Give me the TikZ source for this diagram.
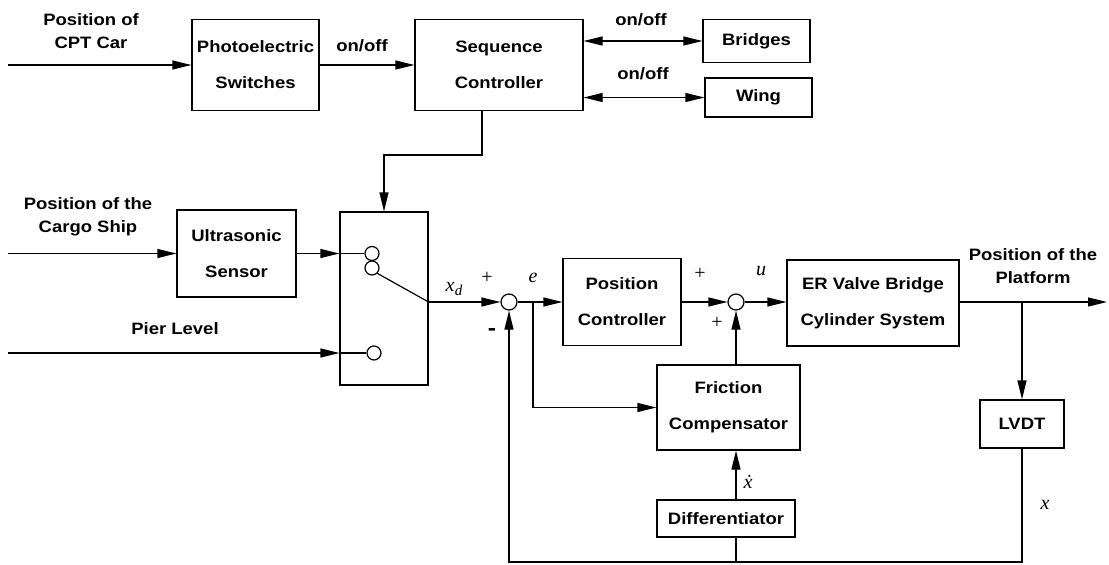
\documentclass[tikz,border=0pt]{standalone}
\usepackage{fontspec}
\setmainfont{Liberation Sans}[FakeStretch=1.12]
\newfontfamily\tmsfont{Liberation Serif}
\usetikzlibrary{arrows.meta}
\newcommand\boxfont{\bfseries\fontsize{16.5}{36}\selectfont}
\newcommand\lblfont{\bfseries\fontsize{16.5}{23.5}\selectfont}
\newcommand\mfont{\tmsfont\fontsize{20}{22}\selectfont}
\begin{document}
\begin{tikzpicture}[x=1pt,y=-1pt,
  line width=1.2pt,
  blk/.style={draw, line width=1.2pt, inner sep=0pt, align=center, font=\boxfont},
  lbl/.style={inner sep=0pt, align=center, font=\lblfont},
  mlbl/.style={inner sep=0pt, font=\mfont},
  sumc/.style={draw, circle, line width=1.2pt, minimum size=16pt, inner sep=0pt},
  swc/.style={draw, circle, line width=1.2pt, minimum size=14pt, inner sep=0pt},
  arr/.style={-{Triangle[length=19pt,width=9pt]}},
  darr/.style={{Triangle[length=19pt,width=9pt]}-{Triangle[length=19pt,width=9pt]}}]
\useasboundingbox (0,0) rectangle (1109,565);

% blocks
\node[blk, minimum width=127pt, minimum height=91pt] (pe) at (255.5,65) {Photoelectric\\Switches};
\node[blk, minimum width=168pt, minimum height=91pt] (sc) at (499,65) {Sequence\\Controller};
\node[blk, minimum width=107pt, minimum height=43pt] (br) at (756.5,41) {Bridges};
\node[blk, minimum width=107pt, minimum height=39pt] (wg) at (758.5,97.5) {Wing};
\node[blk, minimum width=119pt, minimum height=87pt] (us) at (236.5,253.5) {Ultrasonic\\Sensor};
\node[draw, line width=1.2pt, minimum width=88pt, minimum height=173pt, inner sep=0pt] (sw) at (384,298.5) {};
\node[blk, minimum width=118pt, minimum height=87pt] (pc) at (622,302) {Position\\Controller};
\node[blk, minimum width=172pt, minimum height=86pt] (er) at (873,303) {ER Valve Bridge\\Cylinder System};
\node[blk, minimum width=143pt, minimum height=85pt] (fc) at (728.5,407.5) {Friction\\Compensator};
\node[blk, minimum width=138pt, minimum height=37pt] (df) at (726,518.5) {Differentiator};
\node[blk, minimum width=84pt, minimum height=48pt] (lv) at (1022,424) {LVDT};

% switch contacts and summing junctions
\node[swc] (c1) at (372,253.5) {};
\node[swc] (c2) at (372,268) {};
\node[swc] (c3) at (374,353) {};
\node[sumc] (s1) at (509,302) {};
\node[sumc] (s2) at (736,302) {};

% coordinates
\coordinate (incpt) at (8,65);
\coordinate (inship) at (8,253.5);
\coordinate (inpier) at (8,353);
\coordinate (k1) at (482,155);
\coordinate (k2) at (384,155);
\coordinate (eb) at (533,302);
\coordinate (out) at (1107,302);
\coordinate (lb) at (1022,302);
\coordinate (bot) at (1022,562);

% connectors, top row
\draw[arr] (incpt) -- (pe.west);
\draw[arr] (pe.east) -- (sc.west);
\draw[darr] (sc.east |- br) -- (br.west);
\draw[darr] (sc.east |- wg) -- (wg.west);
\draw[arr] (sc.south -| k1) -- (k1) -- (k2) -- (sw.north);

% inputs to switch
\draw[arr] (inship) -- (us.west);
\draw[arr] (us.east) -- (c1 -| sw.west);
\draw (c1 -| sw.west) -- (c1.west);
\draw[arr] (inpier) -- (inpier -| sw.west);
\draw (inpier -| sw.west) -- (c3.west);
\draw (c2.south east) -- (sw.east |- s1);

% main loop
\draw[arr] (sw.east |- s1) -- (s1.west);
\draw[arr] (s1.east) -- (pc.west |- s1);
\draw[arr] (eb) -- (eb |- fc.west) -- (fc.west);
\draw[arr] (pc.east |- s2) -- (s2.west);
\draw[arr] (s2.east) -- (er.west |- s2);
\draw[arr] (fc.north -| s2) -- (s2.south);
\draw[arr] (df.north -| s2) -- (fc.south -| s2);
\draw[arr] (er.east |- out) -- (out);
\draw[arr] (lb) -- (lv.north);
\draw[arr] (lv.south) -- (bot) -- (bot -| s1) -- (s1.south);
\draw (df.south -| s2) -- (bot -| s2);

% labels
\node[lbl] (lcpt) at (91,31) {Position of\\CPT Car};
\node[lbl] (lship) at (88,217) {Position of the\\Cargo Ship};
\node[lbl] (lpier) at (175,329) {Pier Level};
\node[lbl] (lplat) at (1033,266) {Position of the\\Platform};
\node[lbl] (on1) at (362,46) {on/off};
\node[lbl] (on2) at (641,20) {on/off};
\node[lbl] (on3) at (643,74) {on/off};
\node[mlbl] (lxd) at (454,289) {\itshape x\kern0.5pt\raisebox{-4pt}{\fontsize{15}{16}\selectfont d}};
\node[mlbl] (lp1) at (487,278) {+};
\node[lbl, font=\bfseries\fontsize{22}{24}\selectfont] (lm1) at (492,332) {-};
\node[mlbl] (le) at (533,278) {\itshape e};
\node[mlbl] (lp2) at (700,274) {+};
\node[mlbl] (lu) at (761,271) {\itshape u};
\node[mlbl] (lp3) at (717,323) {+};
\node[mlbl] (lxdot) at (748,482) {\itshape ẋ};
\node[mlbl] (lx) at (1045,505) {\itshape x};
\end{tikzpicture}
\end{document}
